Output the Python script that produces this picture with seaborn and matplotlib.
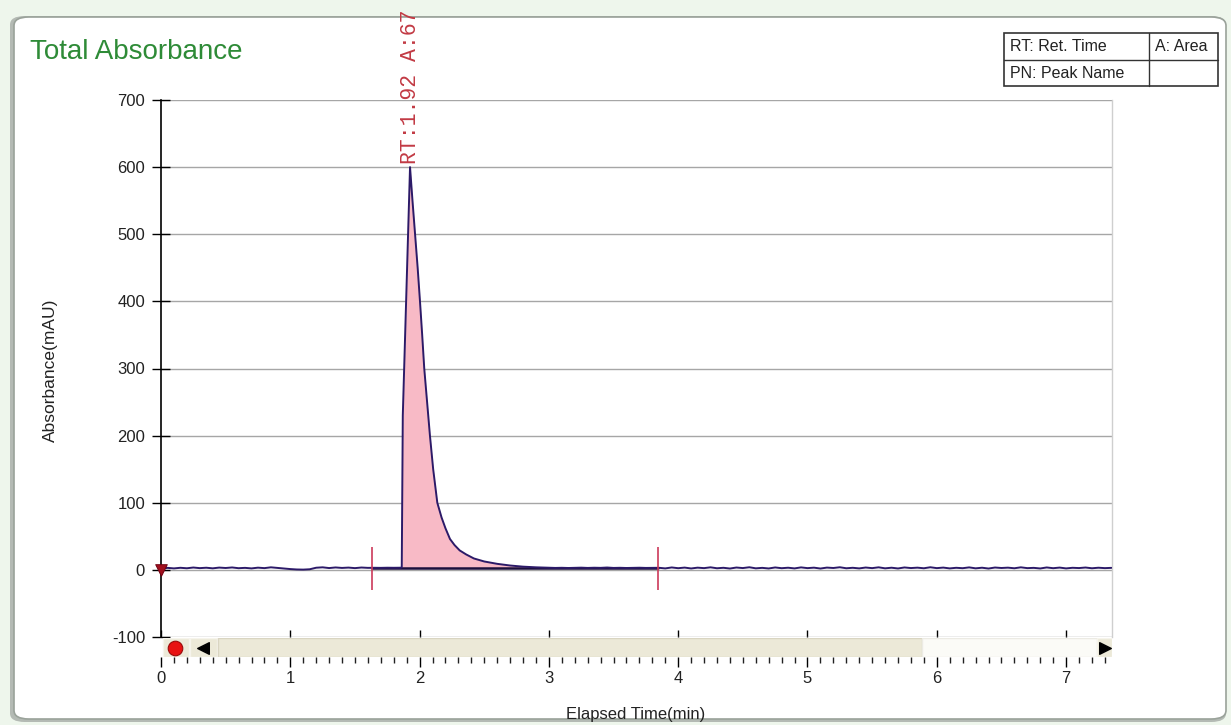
import matplotlib
matplotlib.use("Agg")
import numpy as np
import pandas as pd
import seaborn as sns
import matplotlib.pyplot as plt
from matplotlib.patches import FancyBboxPatch, Rectangle
from matplotlib.ticker import MultipleLocator

# ---------------- data ----------------
time_min = [
    0.00, 0.05, 0.10, 0.15, 0.20, 0.25, 0.30, 0.35, 0.40, 0.45, 0.50, 0.55, 0.60, 0.65,
    0.70, 0.75, 0.80, 0.85, 0.90, 0.95, 1.00, 1.05, 1.10, 1.15, 1.20, 1.25, 1.30, 1.35,
    1.40, 1.45, 1.50, 1.55, 1.60, 1.65, 1.70, 1.75, 1.80, 1.85,
    1.862, 1.866, 1.870, 1.885, 1.900, 1.915, 1.926, 1.945, 1.965, 1.985, 2.003, 2.020,
    2.036, 2.058, 2.080, 2.105, 2.137, 2.170, 2.200, 2.235, 2.270, 2.310, 2.360, 2.420,
    2.500, 2.600, 2.700, 2.800, 2.900, 3.000,
    3.05, 3.10, 3.15, 3.20, 3.25, 3.30, 3.35, 3.40, 3.45, 3.50, 3.55, 3.60, 3.65, 3.70,
    3.75, 3.80, 3.85, 3.90, 3.95, 4.00, 4.05, 4.10, 4.15, 4.20, 4.25, 4.30, 4.35, 4.40,
    4.45, 4.50, 4.55, 4.60, 4.65, 4.70, 4.75, 4.80, 4.85, 4.90, 4.95, 5.00, 5.05, 5.10,
    5.15, 5.20, 5.25, 5.30, 5.35, 5.40, 5.45, 5.50, 5.55, 5.60, 5.65, 5.70, 5.75, 5.80,
    5.85, 5.90, 5.95, 6.00, 6.05, 6.10, 6.15, 6.20, 6.25, 6.30, 6.35, 6.40, 6.45, 6.50,
    6.55, 6.60, 6.65, 6.70, 6.75, 6.80, 6.85, 6.90, 6.95, 7.00, 7.05, 7.10, 7.15, 7.20,
    7.25, 7.30, 7.35,
]
absorbance_mau = [
    1.5, 3.0, 2.2, 3.1, 2.4, 3.5, 2.6, 3.2, 2.3, 3.4, 2.8, 3.6, 2.5, 3.0,
    2.2, 3.3, 2.6, 3.8, 2.9, 2.0, 1.2, 0.6, 0.4, 0.9, 3.2, 3.8, 2.7, 3.6,
    2.9, 3.4, 2.6, 3.5, 3.0, 3.1, 3.0, 3.2, 3.1, 3.2,
    3.5, 110, 230, 330, 426, 530, 600, 550, 500, 450, 400, 350,
    300, 250, 200, 150, 100, 78, 62, 46, 37, 29, 23, 17,
    12.5, 9.0, 6.5, 4.8, 3.8, 3.2,
    2.9, 3.1, 2.8, 3.0, 3.3, 2.9, 3.2, 3.0, 3.5, 2.9, 3.1, 2.8, 3.0, 3.2,
    2.9, 3.0, 3.1, 2.2, 3.6, 2.5, 3.4, 2.1, 3.3, 2.6, 3.8, 2.4, 3.1, 2.0,
    3.5, 2.7, 3.9, 2.3, 3.0, 2.1, 3.6, 2.5, 3.2, 2.2, 3.7, 2.6, 3.3, 2.0,
    3.4, 2.8, 3.9, 2.4, 3.1, 2.2, 3.5, 2.6, 3.8, 2.3, 3.2, 2.1, 3.6, 2.7,
    3.3, 2.4, 3.9, 2.6, 3.4, 2.2, 3.1, 2.5, 3.7, 2.3, 3.2, 2.0, 3.5, 2.8,
    3.3, 2.4, 3.8, 2.6, 3.0, 2.1, 3.6, 2.5, 3.4, 2.2, 3.1, 2.7, 3.5, 2.4,
    3.2, 2.6, 3.0,
]

peak_rt = 1.926          # retention time of the apex
peak_height = 600
peak_label = "RT:1.92 A:67"
peak_bounds = [1.63, 3.846]   # integration start / end markers
fill_range = [1.862, 3.00]    # shaded area under the peak
baseline_level = 3.0
marker_span = [-30, 34]       # vertical extent of the boundary ticks

y_ticks = [-100, 0, 100, 200, 300, 400, 500, 600, 700]
x_ticks = [0, 1, 2, 3, 4, 5, 6, 7]
x_max = 7.355

legend_cells = [["RT: Ret. Time", "A: Area"], ["PN: Peak Name", ""]]

df = pd.DataFrame({"time": time_min, "abs": absorbance_mau})

# ---------------- styling ----------------
sns.set_style("white")
plt.rcParams["font.family"] = ["Liberation Sans", "DejaVu Sans"]
plt.rcParams["xtick.bottom"] = True
plt.rcParams["ytick.left"] = True

W, H = 1231, 725
fig = plt.figure(figsize=(W / 100, H / 100), dpi=100, facecolor="#eef6ec")

def fx(px):
    return px / W

def fy(py):
    return 1 - py / H

# panel frame (behind everything)
shadow = FancyBboxPatch((fx(10), fy(722)), fx(1216), 706 / H,
                        boxstyle="round,pad=0,rounding_size=0.012",
                        transform=fig.transFigure, fc="#b4bab4", ec="none", zorder=-3)
fig.patches.append(shadow)
panel = FancyBboxPatch((fx(14), fy(719)), fx(1212), 702 / H,
                       boxstyle="round,pad=0,rounding_size=0.012",
                       transform=fig.transFigure, fc="white", ec="#9aa29a", lw=1.2, zorder=-2)
fig.patches.append(panel)

# main axes
ax = fig.add_axes([fx(161), fy(637), fx(951), 537 / H])
ax.set_facecolor("none")
ax.set_xlim(0, x_max)
ax.set_ylim(y_ticks[0], y_ticks[-1])

# shaded peak area
t = np.array(time_min)
a = np.array(absorbance_mau)
mask = (t >= fill_range[0]) & (t <= fill_range[1])
ax.fill_between(t, a, baseline_level, where=mask, color="#f8bac6", lw=0, zorder=2)

# peak baseline
ax.plot(peak_bounds, [baseline_level, baseline_level], color="#1c0f3c", lw=1.8, zorder=3)

# chromatogram trace
sns.lineplot(data=df, x="time", y="abs", ax=ax, color="#2c1a68", lw=1.4,
             estimator=None, sort=False, zorder=4)

# integration boundary marks
ax.vlines(peak_bounds, marker_span[0], marker_span[1], color="#cc3a5a", lw=1.2, zorder=5)

# start marker
sns.scatterplot(x=[time_min[0]], y=[0], ax=ax, marker="v", s=70,
                color="#a0101e", edgecolor="#700010", zorder=6, clip_on=False)

# peak label
ax.text(peak_rt, peak_height + 4, peak_label, rotation=90, ha="center", va="bottom",
        family=["Liberation Mono", "DejaVu Sans Mono"], fontsize=15.5,
        color="#c23a44", clip_on=False, zorder=7)

ax.set_xlabel("")
ax.set_ylabel("")
ax.set_yticks(y_ticks)
ax.set_yticklabels([str(v) for v in y_ticks])
ax.tick_params(axis="y", left=True, direction="inout", length=13, width=1, pad=5,
               labelsize=12, labelcolor="#222222", color="black")
ax.set_xticks(x_ticks)
ax.tick_params(axis="x", bottom=True, direction="in", length=5, width=1,
               labelbottom=False, color="black")
ax.yaxis.grid(True, color="#a6a6a6", lw=1)
ax.xaxis.grid(False)
ax.set_axisbelow(True)
for s in ["top", "bottom"]:
    ax.spines[s].set_visible(False)
ax.spines["left"].set_color("black")
ax.spines["left"].set_linewidth(1.2)
ax.spines["right"].set_color("#cfcfcf")
ax.spines["right"].set_linewidth(1)

# scrollbar strip with the time axis below it
sb = fig.add_axes([fx(161), fy(657), fx(951), 19 / H])
sb.set_xlim(0, x_max)
sb.set_ylim(0, 1)
sb.set_facecolor("none")
for s in sb.spines.values():
    s.set_visible(False)
sb.set_yticks([])
sb.set_xticks(x_ticks)
sb.set_xticklabels([str(v) for v in x_ticks])
sb.xaxis.set_minor_locator(MultipleLocator(0.1))
sb.tick_params(axis="x", which="major", bottom=True, direction="out", length=7, width=1,
               labelsize=12, pad=3, color="black", labelcolor="#222222")
sb.tick_params(axis="x", which="minor", bottom=True, direction="out", length=4, width=1,
               color="#222222")

tr = sb.transAxes
def frac(px):
    return (px - 161) / 951

sb.add_patch(Rectangle((frac(163), 0), frac(189) - frac(163), 1, transform=tr,
                       fc="#ece9d8", ec="#f6f4ec", lw=1))
sb.add_patch(Rectangle((frac(190), 0), frac(217) - frac(190), 1, transform=tr,
                       fc="#ece9d8", ec="#f6f4ec", lw=1))
sb.add_patch(Rectangle((frac(218), 0), frac(922) - frac(218), 1, transform=tr,
                       fc="#ece9d8", ec="#d9d5c2", lw=1))
sb.add_patch(Rectangle((frac(922), 0), frac(1097) - frac(922), 1, transform=tr,
                       fc="#fbfbf7", ec="#ecebe4", lw=1))
sb.add_patch(Rectangle((frac(1097), 0), frac(1112) - frac(1097), 1, transform=tr,
                       fc="#ece9d8", ec="#f6f4ec", lw=1))
sb.scatter([frac(175)], [0.5], transform=tr, s=110, color="#e81212",
           edgecolor="#9a0a0a", lw=0.8, zorder=5, clip_on=False)
sb.scatter([frac(203)], [0.5], transform=tr, s=70, marker="<", color="black",
           zorder=5, clip_on=False)
sb.scatter([frac(1104.5)], [0.5], transform=tr, s=70, marker=">", color="black",
           zorder=5, clip_on=False)

# titles / labels
fig.text(fx(30), fy(52), "Total Absorbance", fontsize=20, color="#2e8b37",
         ha="left", va="center")
fig.text(fx(636), fy(715), "Elapsed Time(min)", fontsize=12, color="#222222",
         ha="center", va="center")
fig.text(fx(50), fy(370), "Absorbance(mAU)", fontsize=12.5, color="#222222",
         rotation=90, ha="center", va="center")

# legend table (top right)
x0, x1, xm = 1004, 1218, 1149
y0, y1, ym = 33, 86, 59.5
box = Rectangle((fx(x0), fy(y1)), fx(x1 - x0), (y1 - y0) / H, transform=fig.transFigure,
                fc="white", ec="#333333", lw=1.2)
fig.patches.append(box)
fig.add_artist(plt.Line2D([fx(x0), fx(x1)], [fy(ym), fy(ym)], transform=fig.transFigure,
                          color="#333333", lw=1))
fig.add_artist(plt.Line2D([fx(xm), fx(xm)], [fy(y0), fy(y1)], transform=fig.transFigure,
                          color="#333333", lw=1))
cell_x = [1010, 1155]
cell_y = [46.5, 73]
for r, row in enumerate(legend_cells):
    for c, txt in enumerate(row):
        if txt:
            fig.text(fx(cell_x[c]), fy(cell_y[r]), txt, fontsize=11.5, color="#222222",
                     ha="left", va="center")

fig.savefig("out.png", dpi=100, facecolor=fig.get_facecolor())
